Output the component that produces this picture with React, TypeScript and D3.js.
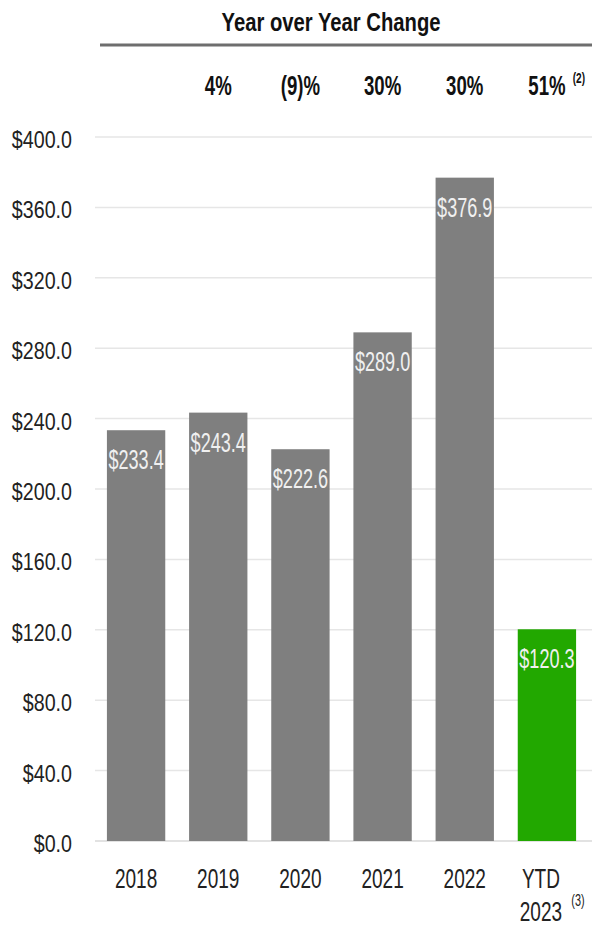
import React, { useRef, useEffect } from 'react';
import * as d3 from 'd3';

const categories = ['2018', '2019', '2020', '2021', '2022', 'YTD 2023'];
const values = [233.4, 243.4, 222.6, 289.0, 376.9, 120.3];
const yoyLabels = ['', '4%', '(9)%', '30%', '30%', '51%'];
const yTicks = [0, 40, 80, 120, 160, 200, 240, 280, 320, 360, 400];

const FONT = '"Liberation Sans", Arial, sans-serif';

const App: React.FC = () => {
  const svgRef = useRef<SVGSVGElement | null>(null);

  useEffect(() => {
    const width = 592;
    const height = 929;

    d3.select(svgRef.current).selectAll('*').remove();
    const svg = d3.select(svgRef.current).attr('width', width).attr('height', height);

    // the source uses a condensed face; squeeze Liberation Sans horizontally
    const label = (
      g: d3.Selection<any, unknown, null, undefined>,
      txt: string,
      px: number,
      py: number,
      size: number,
      sx: number,
      anchor = 'middle',
      weight = 'normal',
      fill = '#222'
    ) =>
      g
        .append('text')
        .attr('transform', `translate(${px},${py}) scale(${sx},1)`)
        .attr('text-anchor', anchor)
        .style('font-family', FONT)
        .style('font-size', `${size}px`)
        .style('font-weight', weight)
        .style('fill', fill)
        .text(txt);

    const x = d3
      .scaleBand()
      .domain(categories)
      .range([95, 588])
      .paddingInner(0.29)
      .paddingOuter(0.145);

    const y = d3.scaleLinear().domain([0, 400]).range([841, 137]);

    // gridlines
    svg
      .append('g')
      .selectAll('line')
      .data(yTicks)
      .enter()
      .append('line')
      .attr('x1', 95)
      .attr('x2', width)
      .attr('y1', (d) => y(d))
      .attr('y2', (d) => y(d))
      .attr('stroke', (d) => (d === 0 ? '#d9d9d9' : '#e6e6e6'))
      .attr('stroke-width', 1.5);

    // y tick labels
    const yl = svg.append('g');
    yTicks.forEach((d) => label(yl, `$${d.toFixed(1)}`, 72, y(d) + 11, 24, 0.82, 'end'));

    // bars
    svg
      .append('g')
      .selectAll('rect')
      .data(values)
      .enter()
      .append('rect')
      .attr('x', (d, i) => x(categories[i])!)
      .attr('y', (d) => y(d))
      .attr('width', x.bandwidth())
      .attr('height', (d) => y(0) - y(d))
      .attr('fill', (d, i) => (i === categories.length - 1 ? '#22a800' : '#7f7f7f'));

    // value labels
    const vl = svg.append('g');
    values.forEach((d, i) =>
      label(vl, `$${d.toFixed(1)}`, x(categories[i])! + x.bandwidth() / 2, y(d) + 39, 27, 0.67, 'middle', 'normal', '#f0f0f0')
    );

    // x labels
    const xl = svg.append('g');
    categories.forEach((c) => {
      const cx = x(c)! + x.bandwidth() / 2;
      if (c.startsWith('YTD')) {
        const [a, b] = c.split(' ');
        label(xl, a, cx - 6, 888, 28, 0.68);
        label(xl, b, cx - 6, 921, 28, 0.68);
        label(xl, '(3)', cx + 31, 906, 16, 0.68);
      } else {
        label(xl, c, cx, 888, 28, 0.68);
      }
    });

    // header
    const hd = svg.append('g');
    label(hd, 'Year over Year Change', 331, 31, 25, 0.81, 'middle', 'bold', '#111');

    svg
      .append('line')
      .attr('x1', 100)
      .attr('x2', width)
      .attr('y1', 45)
      .attr('y2', 45)
      .attr('stroke', '#6e6e6e')
      .attr('stroke-width', 3);

    yoyLabels.forEach((t, i) => {
      if (!t) return;
      const cx = x(categories[i])! + x.bandwidth() / 2;
      label(hd, t, cx, 95, 27, 0.69, 'middle', 'bold', '#111');
      if (i === categories.length - 1) label(hd, '(2)', cx + 32, 83, 14, 0.72, 'middle', 'bold', '#111');
    });
  }, []);

  return <svg ref={svgRef} style={{ display: 'block', position: 'absolute', left: 0, top: 0 }}></svg>;
};

export default App;
